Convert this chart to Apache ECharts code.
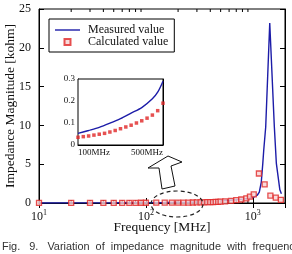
<!DOCTYPE html>
<html><head><meta charset="utf-8">
<script src="https://cdn.jsdelivr.net/npm/echarts@6/dist/echarts.min.js"></script>
<style>html,body{margin:0;padding:0;background:#fff}#c{width:292px;height:254px}</style>
</head><body><div id="c"></div>
<script>
// ---- data ----
const measuredFreq = [10,20,50,100,150,200,250,300,350,400,450,475,500,600,700,800,900,1000,1100,1150,1200,1240,1265,1320,1440,1590,1660,1790,1850];
const measuredVal  = [0.005,0.01,0.026,0.053,0.066,0.08,0.099,0.12,0.145,0.17,0.21,0.24,0.29,0.36,0.42,0.5,0.58,0.7,1.0,1.4,2.7,5.1,6.8,9.8,23.2,9.8,5.1,1.7,1.2];
const calcFreq = [10,20,30,40,50,60,70,80,90,100,125,150,175,200,225,250,275,300,325,350,375,400,425,450,475,500,550,625,700,780,870,940,1020,1140,1290,1460,1640,1830];
const calcVal  = [0.004,0.007,0.011,0.014,0.018,0.021,0.025,0.028,0.032,0.035,0.038,0.041,0.045,0.049,0.053,0.059,0.066,0.074,0.082,0.09,0.1,0.11,0.122,0.136,0.156,0.19,0.22,0.28,0.36,0.45,0.6,0.82,1.12,3.8,2.4,0.94,0.68,0.39];
const yTicks = [0,5,10,15,20,25];
const minorTickFreq = [20,30,40,50,60,70,80,90,200,300,400,500,600,700,800,900];
const insetRange = [100,500];
const insetYTicks = [0,0.1,0.2,0.3];
const seriesNames = ['Measured value','Calculated value'];
const axisNames = ['Frequency [MHz]','Impedance Magnitude [kohm]'];
const caption = 'Fig.   9.   Variation  of  impedance  magnitude  with  frequency';

const pairs = (xs, ys) => xs.map((x, i) => [x, ys[i]]);
const inInset = p => p[0] >= insetRange[0] && p[0] <= insetRange[1];
const measured = pairs(measuredFreq, measuredVal);
const calculated = pairs(calcFreq, calcVal);

const SERIF = 'Liberation Serif';
const BLUE = '#1c1ca8', RED = '#e02626';

const chart = echarts.init(document.getElementById('c'), null, {renderer: 'canvas'});
const logFmt = v => {
  const e = Math.round(Math.log10(v));
  if (Math.abs(v - Math.pow(10, e)) > 1e-6 * v) return '';
  return '{b|10}{s|' + e + '}';
};
const tickStyle = {show: true, inside: true, length: 5, lineStyle: {color: '#000', width: 1}};
const lineAx = {show: true, lineStyle: {color: '#000', width: 1}};

chart.setOption({
  animation: false,
  title: {text: caption, left: 2, top: 241, padding: 0,
    textStyle: {fontFamily: 'Liberation Sans', fontSize: 10.9, fontWeight: 'normal', color: '#333'}},
  legend: {
    orient: 'vertical', left: 49, top: 19, padding: [5, 6, 4, 6], itemGap: 0,
    itemWidth: 25, itemHeight: 6,
    backgroundColor: '#fff', borderColor: '#000', borderWidth: 1, borderRadius: 0,
    textStyle: {fontFamily: SERIF, fontSize: 12, color: '#111', lineHeight: 11, padding: [0,0,0,3]},
    data: [{name: seriesNames[0], icon: 'path://M0,0H25V1.4H0Z'}, {name: seriesNames[1], icon: 'path://M0,0H10V10H0Z'}]
  },
  grid: [
    {left: 39, top: 9, right: 7, bottom: 51, show: true, borderColor: '#000', borderWidth: 1, outerBoundsMode: 'none'},
    {left: 78, top: 79, width: 85, height: 66, show: true, backgroundColor: '#fff', borderColor: '#000', borderWidth: 1, outerBoundsMode: 'none', z: 5}
  ],
  xAxis: [
    {gridIndex: 0, type: 'log', logBase: 10, min: 10, max: 2000, interval: 1, position: 'bottom',
     axisLine: lineAx, axisTick: tickStyle, splitLine: {show: false},
     axisLabel: {margin: 6, formatter: logFmt, color: '#111',
       rich: {b: {fontFamily: SERIF, fontSize: 12, color: '#111'}, s: {fontFamily: SERIF, fontSize: 8, color: '#111', padding: [0,0,7,0]}}},
     name: axisNames[0], nameLocation: 'middle', nameGap: 17, nameMoveOverlap: false,
     nameTextStyle: {fontFamily: SERIF, fontSize: 13.5, color: '#111'}},
    {gridIndex: 0, type: 'log', logBase: 10, min: 10, max: 2000, interval: 1, position: 'top',
     axisLine: lineAx, axisTick: tickStyle, axisLabel: {show: false}, splitLine: {show: false}},
    {gridIndex: 1, type: 'value', min: insetRange[0], max: insetRange[1], interval: insetRange[1] - insetRange[0],
     axisLine: lineAx, axisTick: {show: false}, splitLine: {show: false},
     axisLabel: {margin: 3, fontFamily: SERIF, fontSize: 9, color: '#111', formatter: v => v + 'MHz',
       alignMinLabel: 'left', alignMaxLabel: 'right'}}
  ],
  yAxis: [
    {gridIndex: 0, type: 'value', min: yTicks[0], max: yTicks[yTicks.length-1], interval: yTicks[1]-yTicks[0],
     axisLine: lineAx, axisTick: tickStyle, splitLine: {show: false},
     axisLabel: {margin: 8, fontFamily: SERIF, fontSize: 12, color: '#111'},
     name: axisNames[1], nameLocation: 'middle', nameGap: 22, nameMoveOverlap: false,
     nameTextStyle: {fontFamily: SERIF, fontSize: 13.5, color: '#111'}},
    {gridIndex: 0, type: 'value', position: 'right', min: yTicks[0], max: yTicks[yTicks.length-1], interval: yTicks[1]-yTicks[0],
     axisLine: lineAx, axisTick: tickStyle, axisLabel: {show: false}, splitLine: {show: false}},
    {gridIndex: 1, type: 'value', min: insetYTicks[0], max: insetYTicks[insetYTicks.length-1], interval: insetYTicks[1]-insetYTicks[0],
     axisLine: lineAx, axisTick: {show: true, inside: true, length: 3}, splitLine: {show: false},
     axisLabel: {margin: 3, fontFamily: SERIF, fontSize: 9, color: '#111'}},
    {gridIndex: 1, type: 'value', position: 'right', min: insetYTicks[0], max: insetYTicks[insetYTicks.length-1], interval: insetYTicks[1]-insetYTicks[0],
     axisLine: lineAx, axisTick: {show: true, inside: true, length: 3}, axisLabel: {show: false}, splitLine: {show: false}}
  ],
  series: [
    {name: seriesNames[0], type: 'line', xAxisIndex: 0, yAxisIndex: 0, data: measured, symbol: 'none',
     lineStyle: {color: BLUE, width: 1.4}, itemStyle: {color: BLUE}, z: 2},
    {name: seriesNames[1], type: 'scatter', xAxisIndex: 0, yAxisIndex: 0, data: calculated, symbol: 'rect', symbolSize: 5,
     itemStyle: {color: '#f7d2d2', borderColor: RED, borderWidth: 1.3}, z: 3},
    {type: 'custom', xAxisIndex: 0, yAxisIndex: 0, data: minorTickFreq.map(f => [f, 0]), silent: true, clip: false,
     renderItem: (params, api) => {
       const b = api.coord([api.value(0), yTicks[0]]);
       const t = api.coord([api.value(0), yTicks[yTicks.length-1]]);
       return {type: 'group', children: [
         {type: 'line', shape: {x1: b[0], y1: b[1], x2: b[0], y2: b[1]-3}, style: {stroke: '#000', lineWidth: 1}},
         {type: 'line', shape: {x1: t[0], y1: t[1], x2: t[0], y2: t[1]+3}, style: {stroke: '#000', lineWidth: 1}}
       ]};
     }},
    {type: 'line', xAxisIndex: 2, yAxisIndex: 2, data: measured.filter(inInset), symbol: 'none', smooth: 0.3,
     lineStyle: {color: BLUE, width: 1.4}, z: 6},
    {type: 'scatter', xAxisIndex: 2, yAxisIndex: 2, data: calculated.filter(inInset), symbol: 'rect', symbolSize: 3.5,
     itemStyle: {color: RED}, z: 7}
  ],
  graphic: [
    {type: 'ellipse', shape: {cx: 177, cy: 204, rx: 26, ry: 13}, z: 20,
     style: {fill: null, stroke: '#222', lineWidth: 1.2, lineDash: [4, 3]}},
    {type: 'polygon', z: 20,
     shape: {points: [[148,168],[168,156],[182,162],[171,166],[175,186],[162,189],[159,168]]},
     style: {fill: '#fff', stroke: '#111', lineWidth: 1}}
  ]
});
</script></body></html>
